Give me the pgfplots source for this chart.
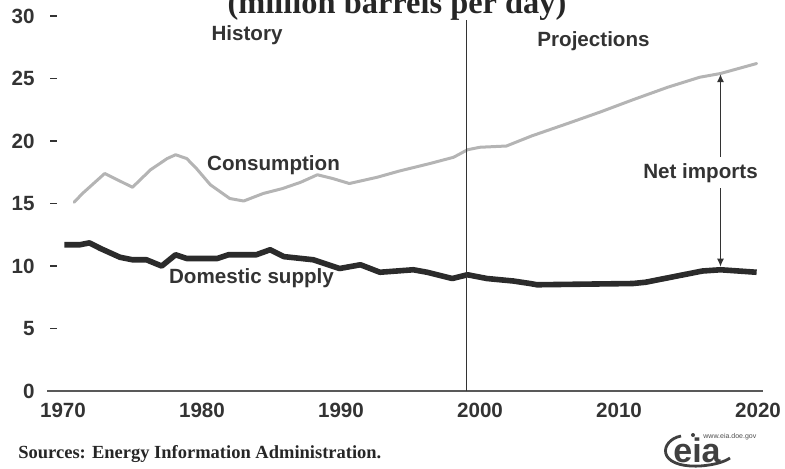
\documentclass[border=0pt]{standalone}
\usepackage{fontspec}
\setmainfont{Liberation Sans}
\newfontfamily\serifbf{Liberation Serif}
\usepackage{pgfplots}
\pgfplotsset{compat=1.18}
\usetikzlibrary{arrows.meta}
\definecolor{txt}{HTML}{333333}
\definecolor{cons}{HTML}{B4B4B4}
\definecolor{dom}{HTML}{2B2B2B}

\pgfplotstableread{
year val
1970.8 15.1
1971.4 15.8
1973.0 17.4
1975.0 16.3
1976.3 17.7
1977.5 18.6
1978.1 18.9
1978.9 18.6
1979.6 17.8
1980.6 16.5
1982.0 15.4
1983.0 15.2
1984.4 15.8
1985.8 16.2
1987.1 16.7
1988.3 17.3
1989.4 17.0
1990.6 16.6
1992.6 17.1
1994.2 17.6
1996.4 18.2
1998.1 18.7
1999.1 19.3
2000.0 19.5
2001.9 19.6
2003.7 20.4
2006.3 21.4
2008.6 22.3
2011.0 23.3
2013.5 24.3
2015.8 25.1
2017.3 25.4
2019.9 26.2
}\consumption

\pgfplotstableread{
year val
1970.1 11.7
1971.2 11.7
1971.9 11.85
1972.7 11.4
1974.1 10.7
1975.0 10.5
1976.0 10.5
1977.1 10.0
1978.1 10.9
1978.9 10.6
1981.1 10.6
1981.9 10.9
1983.9 10.9
1984.9 11.3
1985.9 10.75
1988.0 10.5
1989.9 9.8
1991.4 10.1
1992.8 9.5
1995.2 9.7
1996.2 9.5
1998.0 9.0
1999.1 9.3
2000.5 9.0
2002.4 8.8
2003.6 8.6
2004.1 8.5
2011.0 8.6
2011.9 8.7
2016.0 9.6
2017.3 9.7
2019.9 9.5
}\domestic

\begin{document}
\begin{tikzpicture}
\useasboundingbox (0,0) rectangle (392.5pt,-234pt);
\begin{axis}[
  at={(23.5pt,-195.5pt)}, anchor=south west,
  scale only axis, width=358pt, height=187.5pt,
  xmin=1968.85, xmax=2020.36, ymin=0, ymax=30,
  axis x line*=bottom, axis y line*=left,
  x axis line style={draw=black!65, line width=0.7pt},
  y axis line style={draw=none},
  xtick={1970,1980,...,2020},
  ytick={0,5,...,30},
  tick align=inside,
  major tick length=3.5pt,
  xtick style={draw=none},
  ytick style={draw=txt, line width=0.7pt, xshift=1.5pt},
  tick label style={font=\fontsize{10.3}{12}\selectfont\bfseries, text=txt},
  /pgf/number format/assume math mode=true,
  /pgf/number format/1000 sep={},
  yticklabel style={anchor=east, inner sep=0pt, xshift=-6pt},
  xticklabel style={anchor=north, inner sep=0pt, yshift=-6pt},
  clip=false,
]
\addplot[cons, line width=1.5pt, line join=round, line cap=round] table[x=year, y=val] {\consumption};
\addplot[dom, line width=2.8pt, line join=round] table[x=year, y=val] {\domestic};
\addplot[txt, line width=0.6pt] coordinates {(1999.05,0) (1999.05,29.7)};
\addplot[txt, line width=0.6pt, {Latex[length=4pt,width=3.5pt]}-{Latex[length=4pt,width=3.5pt]}] coordinates {(2017.3,9.95) (2017.3,25.35)};
\end{axis}
\begin{scope}[x=0.5pt, y=-0.5pt, font=\fontsize{10.3}{12}\selectfont\bfseries, text=txt]
\node[anchor=base] at (247,40) {History};
\node[anchor=base] at (593.5,46) {Projections};
\node[anchor=base] at (273.5,170) {Consumption};
\node[anchor=base] at (251.5,283) {Domestic supply};
\node[anchor=base, fill=white, inner sep=3pt] at (700.5,178) {Net imports};
\node[anchor=base, font=\serifbf\bfseries\fontsize{16.2}{18}\selectfont, text=black!85] at (397,13) {(million barrels per day)};
\node[anchor=base west, inner sep=0pt, font=\serifbf\bfseries\fontsize{9.25}{11}\selectfont, text=black!85] at (18,458) {Sources: Energy Information Administration.};
\node[font=\bfseries\fontsize{17}{17}\selectfont, text=black!75, inner sep=0pt] at (697,450) {eia};
\fill[black!75] (693,435) circle (2);
\node[font=\fontsize{3.5}{4}\selectfont, text=black!70, anchor=west, inner sep=0pt] at (703,437) {www.eia.doe.gov};
\draw[black!75, line width=1.4pt] (681,436) .. controls (660,440) and (655,468) .. (700,466) .. controls (714,465) and (724,462) .. (730,458);
\end{scope}
\end{tikzpicture}
\end{document}
